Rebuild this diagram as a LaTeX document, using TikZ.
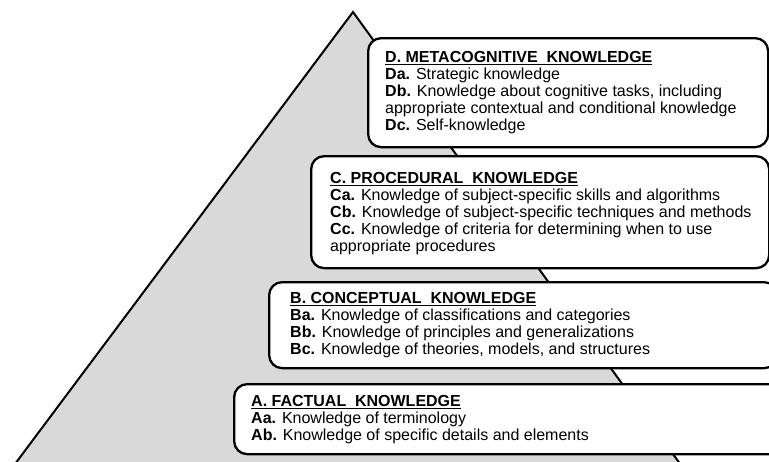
\documentclass[tikz,border=0pt]{standalone}
\usepackage{fontspec}
\setmainfont{Liberation Sans}
\definecolor{pyrgray}{RGB}{217,217,217}
\newcommand{\kdtitle}[2]{\underline{\textbf{#1\hspace{0.55em}#2}}}
\begin{document}
\begin{tikzpicture}[x=1pt,y=-1pt,
  layer/.style={draw=black, line width=2.3pt, rounded corners=13pt, fill=white,
    anchor=north west, inner sep=0pt},
  layertext/.style={anchor=north west, inner sep=0pt, align=left,
    font=\fontsize{16}{17}\selectfont}]
\useasboundingbox (0,0) rectangle (769,461);
\clip (0,0) rectangle (769,461);

% pyramid
\coordinate (apex) at (353,12);
\coordinate (baseL) at (10.5,470);
\coordinate (baseR) at (684.5,470);
\draw[fill=pyrgray, line width=2pt, line join=miter] (baseL) -- (apex) -- (baseR);

% knowledge layers
\node[layer, minimum width=400pt, minimum height=109pt] (D) at (367,37) {};
\node[layer, minimum width=458pt, minimum height=112pt] (C) at (310,155) {};
\node[layer, minimum width=508pt, minimum height=86pt] (B) at (268,281) {};
\node[layer, minimum width=560pt, minimum height=70pt] (A) at (233,383) {};

\node[layertext] (Dt) at (385,51) {\kdtitle{D. METACOGNITIVE}{KNOWLEDGE}\\
  \textbf{Da.} Strategic knowledge\\
  \textbf{Db.} Knowledge about cognitive tasks, including\\
  appropriate contextual and conditional knowledge\\
  \textbf{Dc.} Self-knowledge};

\node[layertext] (Ct) at (330,172) {\kdtitle{C. PROCEDURAL}{KNOWLEDGE}\\
  \textbf{Ca.} Knowledge of subject-specific skills and algorithms\\
  \textbf{Cb.} Knowledge of subject-specific techniques and methods\\
  \textbf{Cc.} Knowledge of criteria for determining when to use\\
  appropriate procedures};

\node[layertext] (Bt) at (290,292) {\kdtitle{B. CONCEPTUAL}{KNOWLEDGE}\\
  \textbf{Ba.} Knowledge of classifications and categories\\
  \textbf{Bb.} Knowledge of principles and generalizations\\
  \textbf{Bc.} Knowledge of theories, models, and structures};

\node[layertext] (At) at (251,395) {\kdtitle{A. FACTUAL}{KNOWLEDGE}\\
  \textbf{Aa.} Knowledge of terminology\\
  \textbf{Ab.} Knowledge of specific details and elements};
\end{tikzpicture}
\end{document}
